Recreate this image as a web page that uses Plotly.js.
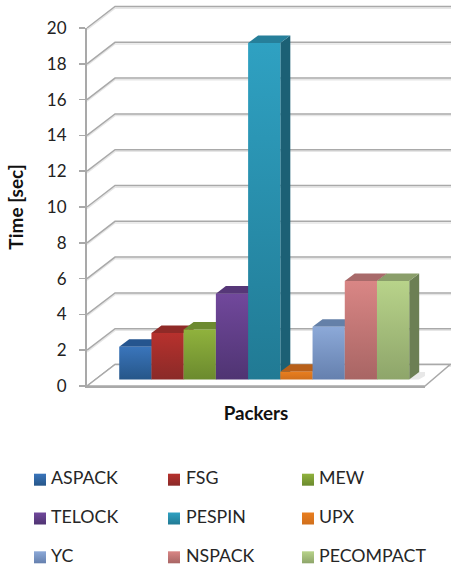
<!DOCTYPE html>
<html><head><meta charset="utf-8">
<script src="https://cdn.plot.ly/plotly-3.0.1.min.js"></script>
<style>html,body{margin:0;padding:0;background:#fff}#chart{width:451px;height:570px}</style>
</head><body><div id="chart"></div>
<script>
// ---- data ----
const packers = ["ASPACK","FSG","MEW","TELOCK","PESPIN","UPX","YC","NSPACK","PECOMPACT"];
const times   = [1.83,2.6,2.8,4.8,18.8,0.44,2.95,5.5,5.5];
const yTicks  = [0,2,4,6,8,10,12,14,16,18,20];

// ---- styling ----
const gradTop    = ["#3a75bb","#b7312d","#90b23d","#71489c","#2fa1c2","#e97e1f","#8ca9d8","#d98685","#b8d38a"];
const gradBottom = ["#265689","#8a2a28","#6b8a2e","#4f3472","#217a94","#d06f1c","#6580ae","#a86564","#8ea56a"];
const topFace    = ["#25558f","#8f2a27","#6d8a30","#563778","#267f9a","#b8601a","#6480a8","#a86a6a","#8a9e6a"];
const sideFace   = ["#1e4470","#702220","#55692a","#42295e","#1c6075","#8f4c16","#4d6488","#845252","#6c7f54"];
const gridCol = "#a9a9a9", shadowCol = "#e6e6e6";

// ---- scene geometry (data units) ----
const W = 451, H = 570;
const xDom = [87/W, 425/W], yDom = [(H-386)/(H-28), 1];
const xRange = [-1.5, 8.99], yRange = [0, 20];
const wallDx = 0.87, wallDy = 1.2;      // depth of the walls
const barDx = 0.31, barDy = 0.42;       // depth of one bar
const barFloor = 0.36;                  // bars stand in the middle of the floor
const px = x => xDom[0] + (x-xRange[0])/(xRange[1]-xRange[0])*(xDom[1]-xDom[0]);
const py = y => yDom[0] + (y-yRange[0])/(yRange[1]-yRange[0])*(yDom[1]-yDom[0]);
const pathOf = pts => "M" + pts.map(p => p[0]+","+p[1]).join("L") + "Z";
const openPath = pts => "M" + pts.map(p => p[0]+","+p[1]).join("L");
const floorEnd = xRange[1] + 0.78, wallEnd = xRange[1] + 0.85;

const shapes = [];
// wall grid lines
yTicks.forEach(v=>{
  const wall = dv => openPath([[px(xRange[0]),py(v+dv)],[px(xRange[0]+wallDx),py(v+wallDy+dv)],[px(wallEnd),py(v+wallDy+dv)]]);
  shapes.push({type:"path",xref:"paper",yref:"paper",layer:"below",line:{color:shadowCol,width:1.5},path:wall(-0.09)});
  shapes.push({type:"path",xref:"paper",yref:"paper",layer:"below",line:{color:gridCol,width:1.5},path:wall(0)});
});
// floor
shapes.push({type:"path",xref:"paper",yref:"paper",layer:"below",fillcolor:"#fff",
  line:{color:gridCol,width:1.5},
  path:pathOf([[px(xRange[0]),py(0)],[px(xRange[0]+wallDx),py(wallDy)],[px(floorEnd),py(wallDy)],[px(xRange[1]),py(0)]])});
// shadow under the last bar and below the floor edge
shapes.push({type:"path",xref:"x",yref:"y",layer:"below",fillcolor:"#e8e8e8",line:{width:0},
  path:pathOf([[8.5,barFloor],[8.5+barDx,barFloor+barDy],[8.5+barDx+0.4,barFloor+barDy],[8.5+0.3,barFloor]])});
shapes.push({type:"line",xref:"x",yref:"y",layer:"below",x0:xRange[0],x1:xRange[1],y0:-0.1,y1:-0.1,line:{color:shadowCol,width:1}});
// side and top faces of the bars, left to right; the bars themselves paint over them
times.forEach((t,i)=>{
  const x0=i-0.5,x1=i+0.5,h=barFloor+t;
  shapes.push({type:"path",xref:"x",yref:"y",layer:"below",fillcolor:sideFace[i],line:{width:0},
    path:pathOf([[x1,barFloor],[x1+barDx,barFloor+barDy],[x1+barDx,h+barDy],[x1,h]])});
  shapes.push({type:"path",xref:"x",yref:"y",layer:"below",fillcolor:topFace[i],line:{width:0},
    path:pathOf([[x0,h],[x1,h],[x1+barDx,h+barDy],[x0+barDx,h+barDy]])});
});

const traces = packers.map((n,i)=>({
  type:"bar",name:n,x:[i],y:[times[i]],base:[barFloor],width:[1],
  marker:{color:gradTop[i],line:{width:0}},showlegend:false,hoverinfo:"name+y"
}));
// legend drawn on its own hidden axes: 3 columns, 3 rows
const swatchCol = [40,174,308], labelCol = [51,186,319], legendRow = [0,1,2];
packers.forEach((n,i)=>{
  traces.push({type:"scatter",mode:"markers",xaxis:"x2",yaxis:"y2",name:n,
    x:[swatchCol[i%3]],y:[legendRow[Math.floor(i/3)]],
    marker:{symbol:"square",size:12,color:gradTop[i]},showlegend:false,cliponaxis:false,hoverinfo:"name"});
});
packers.forEach((n,i)=>{
  traces.push({type:"scatter",mode:"text",xaxis:"x2",yaxis:"y2",name:n,
    x:[labelCol[i%3]],y:[legendRow[Math.floor(i/3)]],text:[n],textposition:"middle right",
    textfont:{family:"Lato, sans-serif",size:17.8,color:"#262626"},
    showlegend:false,cliponaxis:false,hoverinfo:"skip"});
});

const layout = {
  width:W,height:H,margin:{l:0,r:0,t:28,b:0,pad:0},
  paper_bgcolor:"#fff",plot_bgcolor:"rgba(0,0,0,0)",showlegend:false,barmode:"overlay",
  font:{family:"Lato, sans-serif",color:"#222"},
  xaxis:{domain:xDom,range:xRange,showgrid:false,zeroline:false,showticklabels:false,ticks:"",
    showline:true,linecolor:gridCol,linewidth:2,anchor:"y",fixedrange:true,
    title:{text:"<b>Packers</b>",font:{size:18.8,color:"#111"},standoff:20}},
  yaxis:{domain:yDom,range:yRange,tickvals:yTicks,ticktext:yTicks.map(String),showgrid:false,zeroline:false,
    showline:true,linecolor:gridCol,linewidth:2,ticks:"outside",ticklen:6,tickwidth:1.5,tickcolor:gridCol,
    ticklabelstandoff:9,
    tickfont:{size:17,color:"#222"},anchor:"x",fixedrange:true,
    title:{text:"<b>Time [sec]</b>",font:{size:19,color:"#111"},standoff:18}},
  xaxis2:{domain:[0,1],range:[0,W],visible:false,anchor:"y2",fixedrange:true},
  yaxis2:{domain:[(H-567)/(H-28),(H-470)/(H-28)],range:[2.25,-0.25],visible:false,anchor:"x2",fixedrange:true},
  shapes:shapes
};

Plotly.newPlot("chart",traces,layout,{displayModeBar:false,staticPlot:true}).then(gd=>{
  const svg = gd.querySelector(".main-svg");
  const NS = "http://www.w3.org/2000/svg";
  const defs = svg.querySelector("defs") || svg.insertBefore(document.createElementNS(NS,"defs"),svg.firstChild);
  packers.forEach((n,i)=>{
    const g = document.createElementNS(NS,"linearGradient");
    g.setAttribute("id","face"+i);
    g.setAttribute("x1","0");g.setAttribute("y1","0");g.setAttribute("x2","0");g.setAttribute("y2","1");
    [[0,gradTop[i]],[1,gradBottom[i]]].forEach(s=>{
      const st=document.createElementNS(NS,"stop");
      st.setAttribute("offset",s[0]);st.setAttribute("stop-color",s[1]);g.appendChild(st);
    });
    defs.appendChild(g);
  });
  gd.querySelectorAll(".barlayer .trace").forEach((t,i)=>{
    t.querySelectorAll("path").forEach(p=>{p.style.fill="url(#face"+i+")";});
  });
  gd.querySelectorAll(".scatterlayer .trace").forEach((t,i)=>{
    t.querySelectorAll(".points path").forEach(p=>{p.style.fill="url(#face"+i+")";});
  });
});
</script></body></html>
